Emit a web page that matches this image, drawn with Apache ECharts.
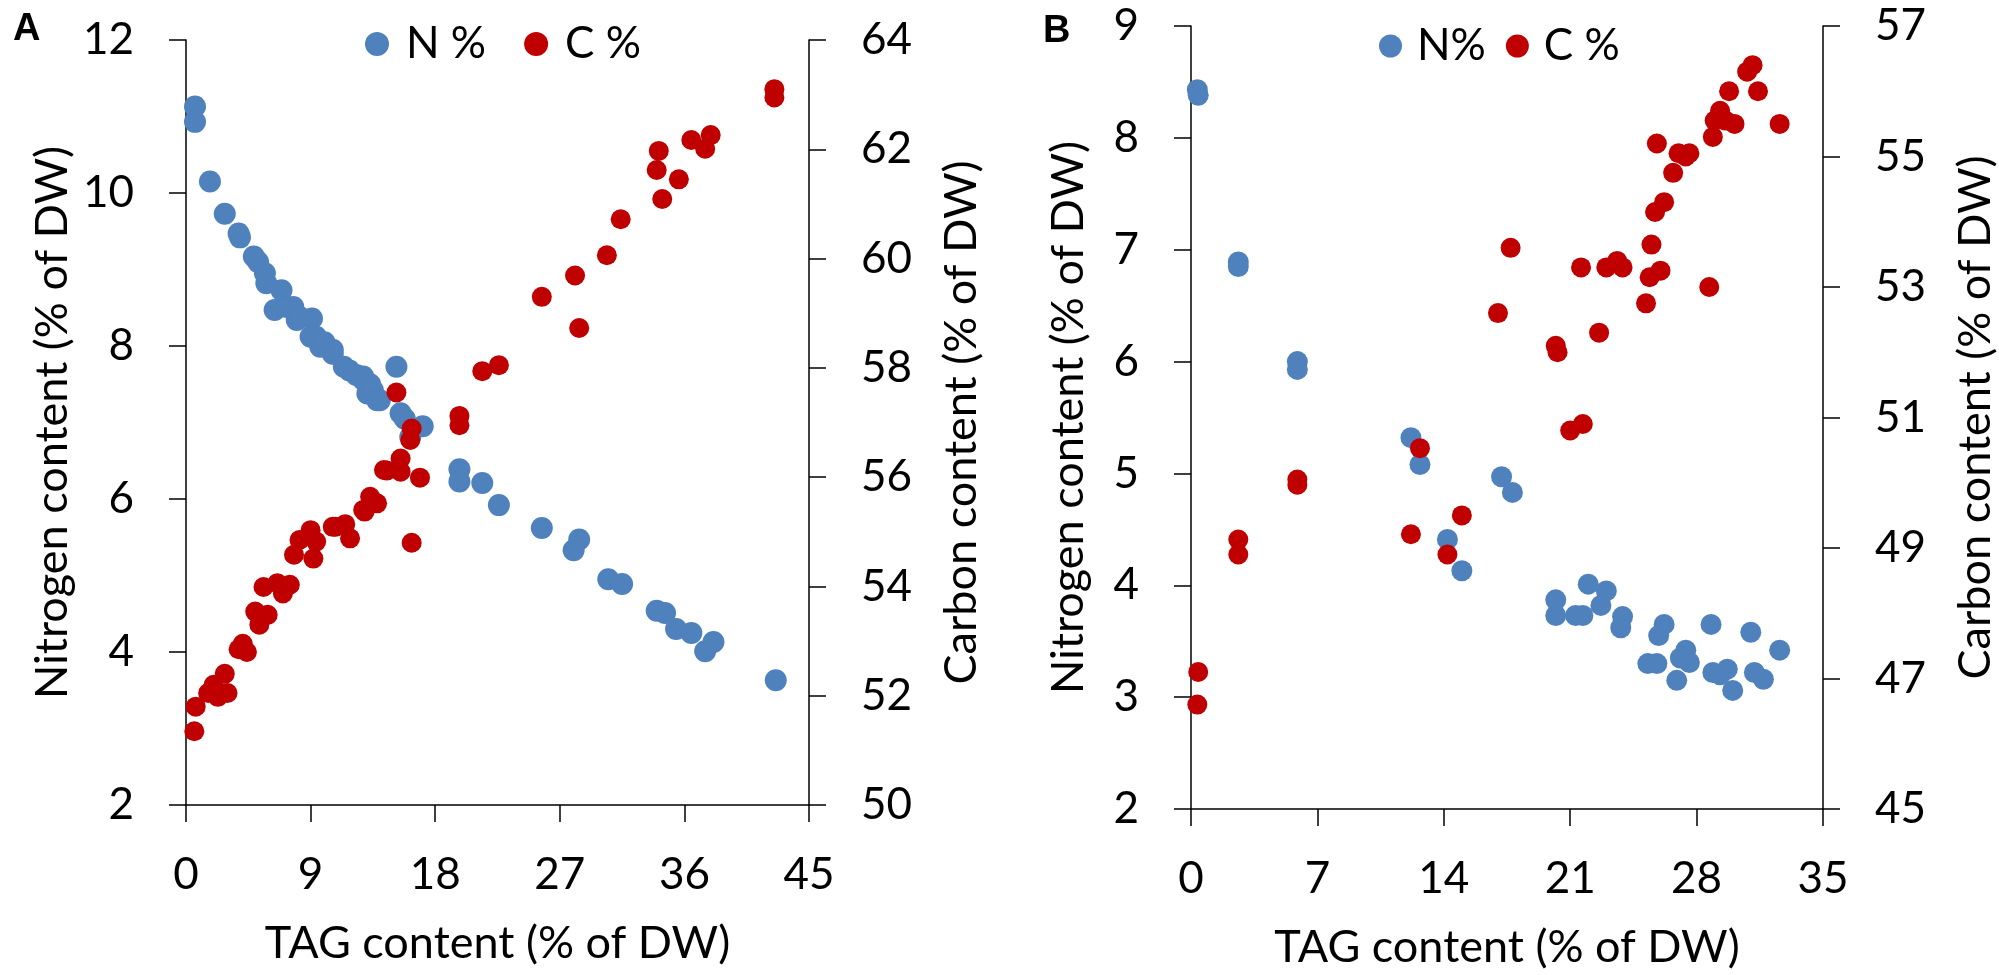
<!DOCTYPE html>
<html>
<head>
<meta charset="utf-8">
<script src="https://cdn.jsdelivr.net/npm/echarts@6/dist/echarts.min.js"></script>
<style>
html,body{margin:0;padding:0;background:#fff;}
#c{width:1999px;height:975px;}
</style>
</head>
<body>
<div id="c"></div>
<script>
// ---------- Panel A data ----------
const tagA_N = [0.65,0.65,1.73,2.8,3.8,3.9,4.9,5.2,5.7,5.8,6.4,6.9,7.3,7.75,8.0,8.2,9.1,9.0,9.4,9.7,10.0,10.6,10.6,11.4,11.8,12.3,12.8,12.8,13.1,13.3,13.5,13.8,14.0,15.2,15.5,15.8,16.2,17.1,19.75,19.75,21.4,22.6,25.7,28.0,28.4,30.5,31.5,34.0,34.6,35.4,36.5,37.5,38.1,42.6];
const nA     = [11.13,10.93,10.15,9.73,9.47,9.42,9.17,9.1,8.95,8.82,8.47,8.73,8.51,8.51,8.34,8.38,8.36,8.12,8.12,7.99,8.05,7.95,7.9,7.73,7.68,7.62,7.6,7.56,7.38,7.5,7.42,7.29,7.29,7.73,7.12,7.05,6.81,6.95,6.39,6.23,6.21,5.92,5.62,5.33,5.47,4.95,4.89,4.54,4.51,4.3,4.25,4.01,4.13,3.63];
const tagA_C = [0.6,0.7,1.6,2.0,2.3,2.8,3.0,3.8,4.1,4.4,5.0,5.3,5.9,5.6,6.6,7.0,7.5,7.8,8.2,9.0,9.2,9.4,10.6,10.8,11.5,11.85,12.8,12.9,13.3,13.8,14.3,14.5,15.2,15.5,15.5,16.2,16.3,16.9,16.3,19.75,19.75,21.4,22.6,25.7,28.1,28.4,30.4,31.4,34.15,34.0,34.4,35.6,36.5,37.5,37.9,42.5,42.5];
const cA     = [51.35,51.8,52.05,52.2,51.98,52.4,52.05,52.85,52.95,52.8,53.54,53.3,53.48,53.99,54.06,53.87,54.03,54.58,54.85,55.03,54.51,54.82,55.09,55.09,55.14,54.88,55.4,55.37,55.64,55.52,56.13,56.12,57.55,56.1,56.34,56.68,56.89,55.99,54.8,57.12,56.95,57.94,58.05,59.3,59.69,58.73,60.06,60.72,61.97,61.62,61.09,61.45,62.17,62.01,62.26,63.1,62.95];

// ---------- Panel B data ----------
const tagB_N = [0.35,0.4,2.62,2.62,5.89,5.89,12.18,12.68,14.2,15.0,17.2,17.8,20.2,20.2,21.3,21.7,22.0,22.7,23.0,23.8,23.9,25.3,25.8,25.9,26.2,26.9,27.1,27.4,27.6,28.8,28.9,29.3,29.7,30.0,31.0,31.2,31.7,32.6];
const nB     = [8.43,8.38,6.89,6.85,6.0,5.93,5.32,5.08,4.41,4.13,4.97,4.83,3.87,3.73,3.73,3.73,4.01,3.82,3.95,3.62,3.72,3.3,3.3,3.55,3.65,3.15,3.35,3.42,3.31,3.65,3.22,3.2,3.25,3.06,3.58,3.22,3.16,3.42];
const tagB_C = [0.4,0.35,2.62,2.62,5.89,5.89,12.18,12.68,14.2,15.0,17.0,17.7,20.2,20.3,21.0,21.7,21.6,22.6,23.0,23.6,23.9,25.2,25.4,25.5,25.7,25.8,26.0,26.2,26.7,27.0,27.4,27.6,28.7,28.9,29.0,29.3,29.6,29.8,30.1,30.8,31.1,31.4,32.6];
const cB     = [47.1,46.6,49.13,48.9,50.05,49.97,49.21,50.53,48.9,49.5,52.6,53.6,52.1,52.0,50.8,50.9,53.3,52.3,53.3,53.4,53.3,52.75,53.15,53.65,54.15,55.2,53.25,54.3,54.75,55.05,55.0,55.05,53.0,55.3,55.55,55.7,55.55,56.0,55.5,56.3,56.4,56.0,55.5];

// ---------- Axis tick settings ----------
const xTicksA = {min:0, max:45, interval:9};
const nTicksA = {min:2, max:12, interval:2};
const cTicksA = {min:50, max:64, interval:2};
const xTicksB = {min:0, max:35, interval:7};
const nTicksB = {min:2, max:9, interval:1};
const cTicksB = {min:45, max:57, interval:2};

const legendA = ['N %','C %'];
const legendB = ['N%','C %'];
const xTitle = 'TAG content (% of DW)';
const nTitle = 'Nitrogen content (% of DW)';
const cTitle = 'Carbon content (% of DW)';

const BLUE = '#4F81BD', RED = '#C00000';
const FONT = 'Lato';
const zip = (a,b)=>a.map((v,i)=>[v,b[i]]);

const lineStyle = {color:'#000', width:1.5};
const tickStyle = {show:true, inside:false, length:17, lineStyle:{color:'#000', width:1.5}};
const lab = (m)=>({color:'#000', fontFamily:FONT, fontSize:44, margin:m});
const nameStyle = {color:'#000', fontFamily:FONT, fontSize:45};

function xAxis(grid, t){
  return Object.assign({type:'value', gridIndex:grid, name:xTitle, nameLocation:'middle', nameGap:116,
    nameTextStyle:nameStyle, axisLine:{show:true, onZero:false, lineStyle:lineStyle}, axisTick:tickStyle,
    axisLabel:lab(48), splitLine:{show:false}}, t);
}
function yAxis(grid, pos, t, name, gap){
  return Object.assign({type:'value', gridIndex:grid, position:pos, name:name, nameLocation:'middle', nameGap:gap, nameRotate:90,
    nameTextStyle:nameStyle, axisLine:{show:true, onZero:false, lineStyle:lineStyle}, axisTick:tickStyle,
    axisLabel:lab(52), splitLine:{show:false}}, t);
}

const chart = echarts.init(document.getElementById('c'), null, {renderer:'canvas'});
chart.setOption({
  animation:false,
  backgroundColor:'#fff',
  textStyle:{fontFamily:FONT},
  title:[
    {text:'A', left:8, top:6, textStyle:{fontFamily:'Liberation Sans', fontWeight:'bold', fontSize:38, color:'#000'}},
    {text:'B', left:1038, top:8, textStyle:{fontFamily:'Liberation Sans', fontWeight:'bold', fontSize:38, color:'#000'}}
  ],
  legend:[
    {data:legendA, left:360, top:17, icon:'circle', itemWidth:24, itemHeight:24, itemGap:38,
     textStyle:{fontFamily:FONT, fontSize:44, color:'#000', padding:[0,0,0,12]}},
    {data:legendB, left:1374, top:19, icon:'circle', itemWidth:23, itemHeight:23, itemGap:20,
     textStyle:{fontFamily:FONT, fontSize:44, color:'#000', padding:[0,0,0,10]}}
  ],
  grid:[
    {left:186, right:1190, top:40, bottom:170},
    {left:1191, right:176, top:26, bottom:165}
  ],
  xAxis:[ xAxis(0, xTicksA), xAxis(1, xTicksB) ],
  yAxis:[
    yAxis(0,'left', nTicksA, nTitle, 111),
    yAxis(0,'right', cTicksA, cTitle, 130),
    yAxis(1,'left', nTicksB, nTitle, 100),
    yAxis(1,'right', cTicksB, cTitle, 130)
  ],
  series:[
    {name:'N %', type:'scatter', xAxisIndex:0, yAxisIndex:0, data:zip(tagA_N,nA), symbolSize:22, itemStyle:{color:BLUE, opacity:1}},
    {name:'C %', type:'scatter', xAxisIndex:0, yAxisIndex:1, data:zip(tagA_C,cA), symbolSize:20, itemStyle:{color:RED, opacity:1}},
    {name:'N%', type:'scatter', xAxisIndex:1, yAxisIndex:2, data:zip(tagB_N,nB), symbolSize:21, itemStyle:{color:BLUE, opacity:1}},
    {name:'C %', type:'scatter', xAxisIndex:1, yAxisIndex:3, data:zip(tagB_C,cB), symbolSize:20, itemStyle:{color:RED, opacity:1}}
  ]
});
</script>
</body>
</html>
